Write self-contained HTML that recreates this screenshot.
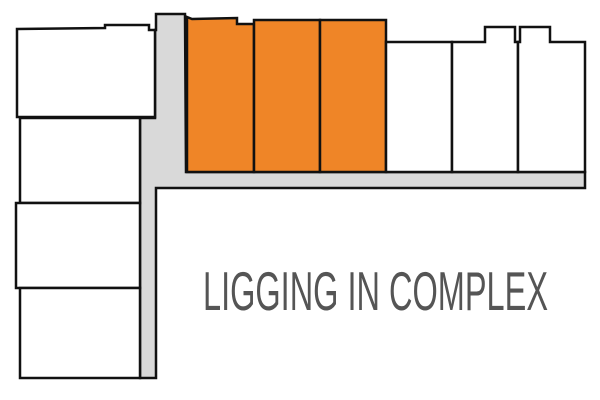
<!DOCTYPE html>
<html><head><meta charset="utf-8"><style>html,body{margin:0;padding:0;background:#fff;}svg{display:block}</style></head>
<body>
<svg width="600" height="400" viewBox="0 0 600 400" xmlns="http://www.w3.org/2000/svg">
<g stroke="#111" stroke-width="2.5" stroke-linejoin="miter">
<!-- grey road -->
<path d="M156,14 L185,14 L186,172 L585,172 L585,188 L156,188 L156,378 L140,378 L140,118 L155,118 L155,30 L156,30 Z" fill="#d9d9d9"/>
<!-- top-left building -->
<path d="M17,29 L105,28 L105,25 L149,25 L149,30 L155,30 L155,117 L17,117 Z" fill="#fff"/>
<!-- left column -->
<rect x="20" y="118" width="120" height="85" fill="#fff"/>
<rect x="16" y="203" width="124" height="85" fill="#fff"/>
<rect x="20" y="288" width="120" height="90" fill="#fff"/>
<!-- orange -->
<path d="M187,17 L192,19 L237,18 L237,24 L254,24 L254,172 L187,172 Z" fill="#ef8527"/>
<rect x="254" y="20" width="66" height="152" fill="#ef8527"/>
<rect x="320" y="20" width="66" height="152" fill="#ef8527"/>
<!-- white right -->
<rect x="386" y="42" width="66" height="130" fill="#fff"/>
<path d="M452,42 L485,42 L485,27 L515,27 L515,42 L518,42 L518,172 L452,172 Z" fill="#fff"/>
<path d="M518,42 L520,42 L520,27 L550,27 L550,42 L585,42 L585,172 L518,172 Z" fill="#fff"/>
</g>
<text x="203" y="310" font-family="'Liberation Sans', sans-serif" font-size="55" fill="#555" textLength="345" lengthAdjust="spacingAndGlyphs">LIGGING IN COMPLEX</text>
</svg>
</body></html>
